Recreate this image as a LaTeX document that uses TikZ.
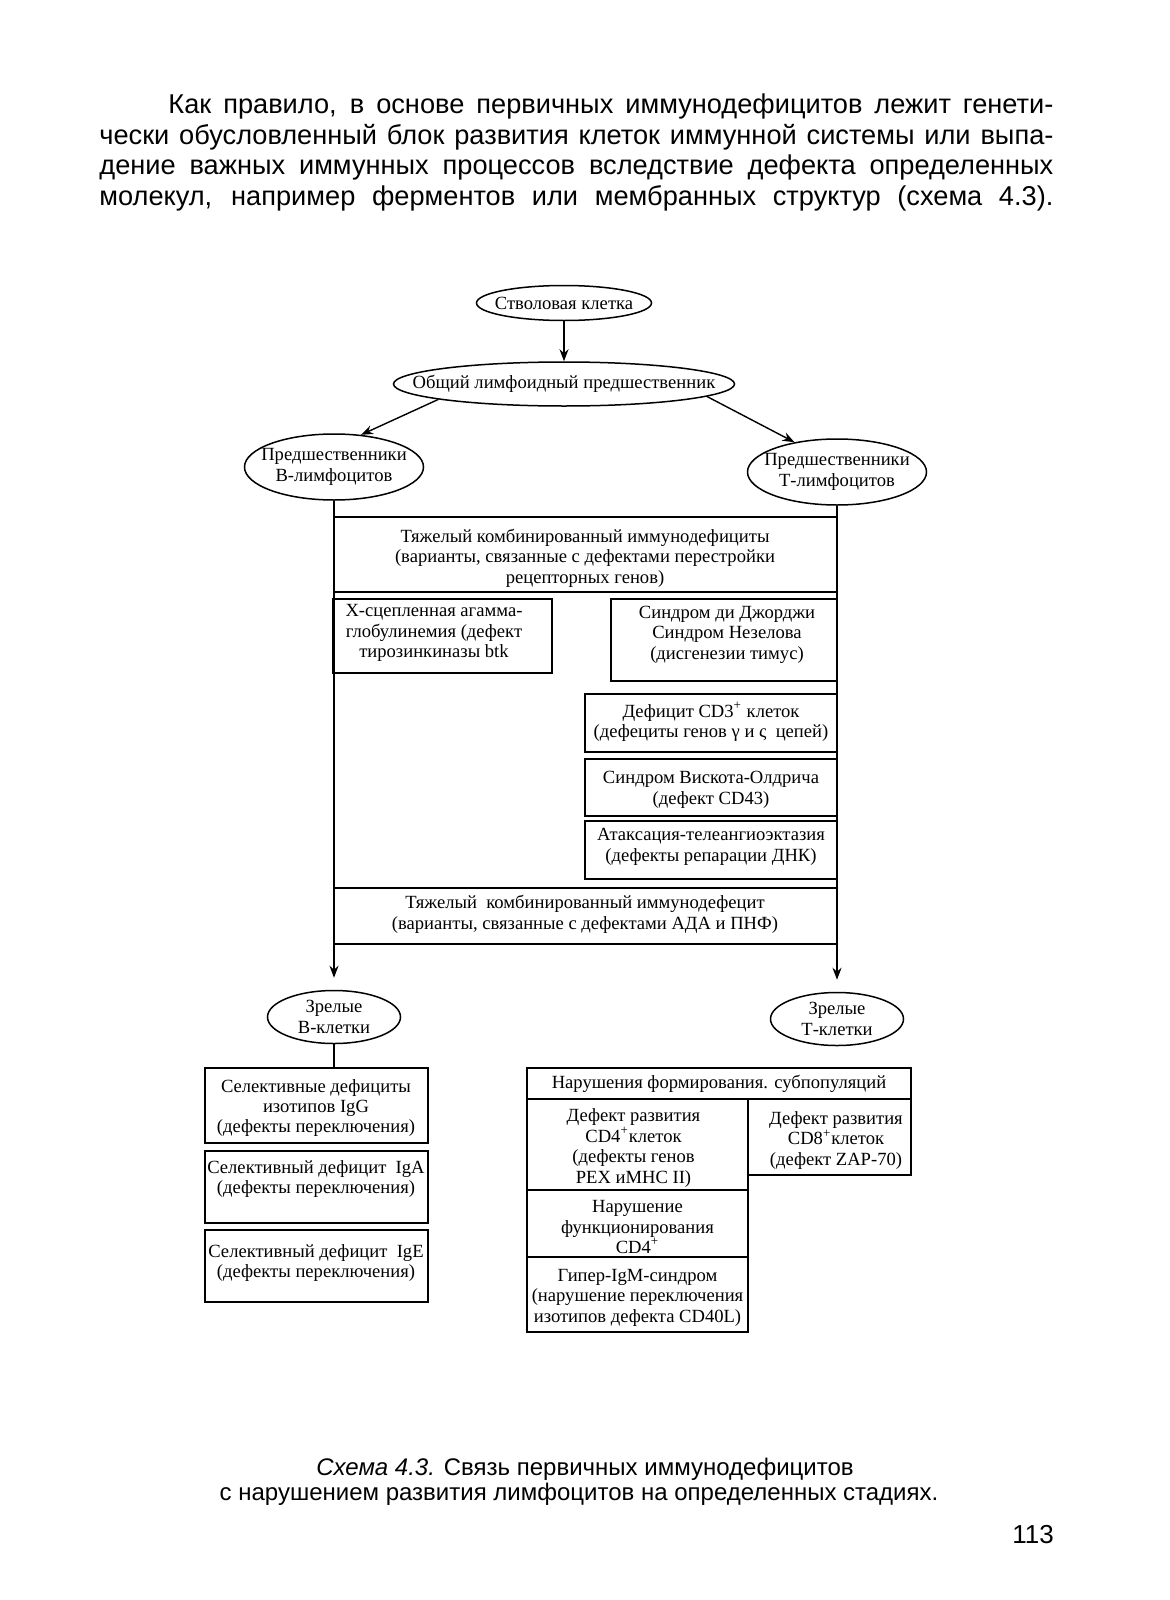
\documentclass[tikz,border=0pt]{standalone}
\usepackage{fontspec}
\setmainfont{Liberation Serif}
\newfontfamily\parafont{Liberation Sans}
\usetikzlibrary{shapes.geometric,arrows.meta}
\newcommand\dfont{\fontsize{9.3}{10.2}\selectfont}
\newcommand\pfont{\parafont\fontsize{13.6}{15}\selectfont}
\newcommand\cfont{\parafont\fontsize{12}{14}\selectfont}
\begin{document}
\begin{tikzpicture}[x=0.5pt,y=-0.5pt,
  ell/.style={draw, ellipse, inner sep=0pt, line width=0.75pt},
  box/.style={draw, rectangle, inner sep=0pt, line width=0.8pt},
  txt/.style={align=center, font=\dfont, inner sep=0pt},
  para/.style={anchor=base west, inner sep=0pt, font=\pfont},
  arr/.style={-{Stealth[length=6pt,width=4.5pt]}, line width=0.7pt},
  ln/.style={line width=0.7pt}]
\fill[white] (0,0) rectangle (1169,1600);
\useasboundingbox (0,0) rectangle (1169,1600);

% paragraph
\node[para] (p1) at (168,113) {\makebox[442.5pt][s]{Как правило, в основе первичных иммунодефицитов лежит генети-}};
\node[para] (p2) at (99,144) {\makebox[477pt][s]{чески обусловленный блок развития клеток иммунной системы или выпа-}};
\node[para] (p3) at (99,174.5) {\makebox[477pt][s]{дение важных иммунных процессов вследствие дефекта определенных}};
\node[para] (p4) at (99,205) {\makebox[477pt][s]{молекул, например ферментов или мембранных структур (схема 4.3).}};

% ellipses
\node[ell, minimum width=87.5pt, minimum height=17.5pt] (stem) at (564,303) {};
\node[txt] (stem-t) at (stem) {Стволовая клетка};
\node[ell, minimum width=170.5pt, minimum height=22pt] (common) at (564,384) {};
\node[txt] (common-t) at (common) {Общий лимфоидный предшественник};
\node[ell, minimum width=89.5pt, minimum height=33pt] (bprec) at (334,467) {};
\node[txt] (bprec-t) at (bprec) {Предшественники\\В-лимфоцитов};
\node[ell, minimum width=89.5pt, minimum height=33pt] (tprec) at (837,472) {};
\node[txt] (tprec-t) at (tprec) {Предшественники\\Т-лимфоцитов};
\node[ell, minimum width=66.5pt, minimum height=26.5pt] (bmat) at (334,1017) {};
\node[txt] (bmat-t) at (bmat) {Зрелые\\В-клетки};
\node[ell, minimum width=66.5pt, minimum height=26.5pt] (tmat) at (837,1019) {};
\node[txt] (tmat-t) at (tmat) {Зрелые\\Т-клетки};

% middle boxes
\node[box, minimum width=251.5pt, minimum height=37.5pt] (scid1) at (585.5,554.5) {};
\node[txt] (scid1-t) at (585,558) {Тяжелый комбинированный иммунодефициты\\(варианты, связанные с дефектами перестройки\\рецепторных генов)};
\node[box, minimum width=109.5pt, minimum height=37pt] (xl) at (442.5,636) {};
\node[txt] (xl-t) at (434,633) {Х-сцепленная агамма-\\глобулинемия (дефект\\тирозинкиназы btk};
\node[box, minimum width=113pt, minimum height=41pt] (dg) at (724,640) {};
\node[txt] (dg-t) at (727,634.5) {Синдром ди Джорджи\\Синдром Незелова\\(дисгенезии тимус)};
\node[box, minimum width=126pt, minimum height=29pt] (cd3) at (711,723) {};
\node[txt] (cd3-t) at (711,722) {Дефицит CD3\textsuperscript{+} клеток\\(дефециты генов γ и ς~~цепей)};
\node[box, minimum width=126pt, minimum height=28.5pt] (was) at (711,787.5) {};
\node[txt] (was-t) at (711,790) {Синдром Вискота-Олдрича\\(дефект CD43)};
\node[box, minimum width=126pt, minimum height=29pt] (at) at (711,850) {};
\node[txt] (at-t) at (711,847) {Атаксация-телеангиоэктазия\\(дефекты репарации ДНК)};
\node[box, minimum width=251.5pt, minimum height=28pt] (scid2) at (585.5,916) {};
\node[txt] (scid2-t) at (585,914.5) {Тяжелый~~комбинированный иммунодефецит\\(варианты, связанные с дефектами АДА и ПНФ)};

% B-cell boxes
\node[box, minimum width=111.5pt, minimum height=37.5pt] (igg) at (316.5,1105.5) {};
\node[txt] (igg-t) at (316,1108) {Селективные дефициты\\изотипов IgG\\(дефекты переключения)};
\node[box, minimum width=111.5pt, minimum height=36pt] (iga) at (316.5,1187) {};
\node[txt] (iga-t) at (316,1179) {Селективный дефицит~ IgA\\(дефекты переключения)};
\node[box, minimum width=111.5pt, minimum height=36pt] (ige) at (316.5,1266) {};
\node[txt] (ige-t) at (316,1263) {Селективный дефицит~ IgE\\(дефекты переключения)};

% T-cell boxes
\node[box, minimum width=192pt, minimum height=15.5pt] (subp) at (719,1083.5) {};
\node[txt] (subp-t) at (719,1083.5) {Нарушения формирования. субпопуляций};
\node[box, minimum width=110.5pt, minimum height=45.5pt] (cd4) at (637.5,1144.5) {};
\node[txt] (cd4-t) at (633.5,1148) {Дефект развития\\CD4\textsuperscript{+}клеток\\(дефекты генов\\PEX иMHC II)};
\node[box, minimum width=81.5pt, minimum height=38pt] (cd8) at (829.5,1137) {};
\node[txt] (cd8-t) at (836,1140.5) {Дефект развития\\CD8\textsuperscript{+}клеток\\(дефект ZAP-70)};
\node[box, minimum width=110.5pt, minimum height=33.5pt] (func) at (637.5,1223.5) {};
\node[txt] (func-t) at (637.5,1227) {Нарушение\\функционирования\\CD4\textsuperscript{+}};
\node[box, minimum width=110.5pt, minimum height=37.5pt] (higm) at (637.5,1294.5) {};
\node[txt] (higm-t) at (637.5,1297.5) {Гипер-IgM-синдром\\(нарушение переключения\\изотипов дефекта CD40L)};

% connectors
\draw[arr] (stem) -- (common);
\draw[arr] (common.187) -- (bprec.50);
\draw[arr] (common.-5) -- (tprec.145);
\draw[arr, shorten >=6pt] (bprec) -- (bmat);
\draw[arr, shorten >=6pt] (tprec) -- (tmat);
\draw[ln] (bmat.south) -- (bmat.south |- igg.north);

% caption and page number
\node[anchor=base, inner sep=0pt, font=\cfont] (cap1) at (585,1475) {\textit{Схема 4.3.} Связь первичных иммунодефицитов};
\node[anchor=base, inner sep=0pt, font=\cfont] (cap2) at (579,1500) {с нарушением развития лимфоцитов на определенных стадиях.};
\node[anchor=base, inner sep=0pt, font=\parafont\fontsize{13}{15}\selectfont] (page) at (1033,1543) {113};
\end{tikzpicture}
\end{document}
